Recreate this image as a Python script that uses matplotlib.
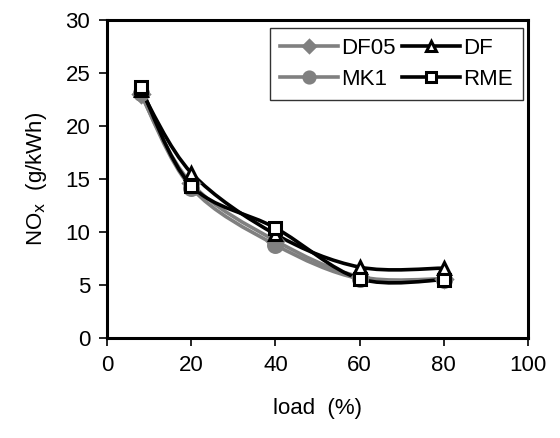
import numpy as np
import matplotlib
matplotlib.use("Agg")
import matplotlib.pyplot as plt
from matplotlib.path import Path
from matplotlib.patches import PathPatch

plt.rcParams['font.family'] = ['Liberation Sans', 'DejaVu Sans']

load = [8, 20, 40, 60, 80]
df05 = [23.0, 14.6, 9.2, 5.8, 5.6]
mk1 = [23.1, 14.2, 8.8, 5.6, 5.5]
df = [23.4, 15.6, 9.8, 6.7, 6.6]
rme = [23.7, 14.4, 10.4, 5.6, 5.5]


def smooth_path(x, y):
    # Excel-style smoothed line: bezier segments through the points
    x = np.asarray(x, float)
    y = np.asarray(y, float)
    verts = [(x[0], y[0])]
    codes = [Path.MOVETO]
    n = len(x)
    for i in range(n - 1):
        x0, y0 = (x[i - 1], y[i - 1]) if i > 0 else (x[i], y[i])
        x3, y3 = (x[i + 2], y[i + 2]) if i + 2 < n else (x[i + 1], y[i + 1])
        c1 = (x[i] + (x[i + 1] - x0) / 6, y[i] + (y[i + 1] - y0) / 6)
        c2 = (x[i + 1] - (x3 - x[i]) / 6, y[i + 1] - (y3 - y[i]) / 6)
        verts += [c1, c2, (x[i + 1], y[i + 1])]
        codes += [Path.CURVE4] * 3
    return Path(verts, codes)


fig = plt.figure(figsize=(5.6, 4.38), dpi=100)
ax = fig.add_axes([0.191, 0.228, 0.752, 0.726])

gray = '#808080'
# order chosen so the 2-column legend reads DF05/DF on top, MK1/RME below
series = [
    ('DF05', df05, gray, 'D', gray, 8),
    ('MK1', mk1, gray, 'o', gray, 10),
    ('DF', df, 'black', '^', 'white', 9),
    ('RME', rme, 'black', 's', 'white', 9),
]

for name, vals, col, mk, fc, ms in series:
    ax.add_patch(PathPatch(smooth_path(load, vals), facecolor='none',
                           edgecolor=col, lw=2.6, zorder=2))
    ax.plot(load, vals, linestyle='none', marker=mk, color=col, mfc=fc,
            mec=col, mew=2.2, ms=ms, zorder=3)
    ax.plot([], [], color=col, lw=2.6, marker=mk, mfc=fc, mec=col,
            mew=2.2, ms=ms, label=name)

ax.set_xlim(0, 100)
ax.set_ylim(0, 30)
ax.set_xticks(range(0, 101, 20))
ax.set_yticks(range(0, 31, 5))
ax.tick_params(direction='out', length=6, width=1.2, labelsize=16, pad=6)
for s in ax.spines.values():
    s.set_linewidth(2.2)

ax.set_xlabel('load  (%)', fontsize=16, labelpad=16)
ax.set_ylabel(r'NO$_\mathrm{x}$  (g/kWh)', fontsize=16, labelpad=12)

leg = ax.legend(loc='upper right', ncol=2, fontsize=16, frameon=True,
                fancybox=False, edgecolor='black', handlelength=2.6,
                handletextpad=0.15, columnspacing=0.3, borderpad=0.45,
                labelspacing=0.45, markerscale=0.8, borderaxespad=0,
                bbox_to_anchor=(0.988, 0.975))
leg.get_frame().set_linewidth(1)

fig.savefig('out.png', dpi=100)
